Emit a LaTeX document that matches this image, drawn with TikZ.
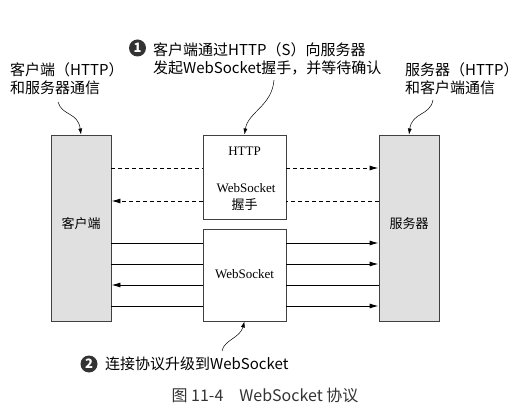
\documentclass[tikz,border=0pt]{standalone}
\usepackage{fontspec}
\setmainfont{Liberation Serif}
\newfontfamily\cjk{Noto Sans CJK SC}
\usetikzlibrary{arrows.meta}

\tikzset{
  side/.style={draw=black!75, line width=0.9pt, fill=black!12, minimum width=60pt, minimum height=186pt, inner sep=0},
  mid/.style={draw=black!75, line width=0.9pt, fill=white, minimum width=83pt, inner sep=0},
  msg/.style={line width=0.9pt},
  msgarrow/.style={msg, -{Latex[length=9pt,width=5pt]}},
  note/.style={font=\cjk\fontsize{15}{18}\selectfont, align=left, anchor=west, inner sep=0},
  boxtext/.style={font=\fontsize{13}{16}\selectfont, inner sep=0},
  hint/.style={line width=0.5pt, -{Latex[length=6pt,width=4pt]}},
  num/.style={circle, fill=black!80, text=white, inner sep=0, minimum size=17pt, font=\cjk\bfseries\fontsize{13}{13}\selectfont},
}

\begin{document}
\begin{tikzpicture}[x=1pt, y=-1pt]
	\useasboundingbox (0,0) rectangle (521,411);

	% client, server and the two middle boxes
	\node[side] (client) at (81,228) {};
	\node[side] (server) at (409,228) {};
	\node[mid, minimum height=84pt] (http) at (244.5,177) {};
	\node[mid, minimum height=92pt] (ws) at (244.5,275) {};

	\node[boxtext, font=\cjk\fontsize{13}{16}\selectfont] (clientlabel) at (81,224) {客户端};
	\node[boxtext, font=\cjk\fontsize{13}{16}\selectfont] (serverlabel) at (409,224) {服务器};
	\node[boxtext] (httplabel) at (244.5,151) {HTTP};
	\node[boxtext] (hslabel) at (246,188) {WebSocket};
	\node[boxtext, font=\cjk\fontsize{13}{16}\selectfont] (hslabel2) at (244.5,205) {握手};
	\node[boxtext] (wslabel) at (244.5,274) {WebSocket};

	% handshake (dashed)
	\draw[msg, dashed, dash pattern=on 4pt off 3pt] (client.east |- 0,168) -- (http.west |- 0,168);
	\draw[msgarrow, dashed, dash pattern=on 4pt off 3pt] (http.east |- 0,168) -- (server.west |- 0,168);
	\draw[msg, dashed, dash pattern=on 4pt off 3pt] (server.west |- 0,201) -- (http.east |- 0,201);
	\draw[msgarrow, dashed, dash pattern=on 4pt off 3pt] (http.west |- 0,201) -- (client.east |- 0,201);

	% websocket frames
	\foreach \y in {243,264,306} {
		\draw[msg] (client.east |- 0,\y) -- (ws.west |- 0,\y);
		\draw[msgarrow] (ws.east |- 0,\y) -- (server.west |- 0,\y);
	}
	\draw[msg] (server.west |- 0,285) -- (ws.east |- 0,285);
	\draw[msgarrow] (ws.west |- 0,285) -- (client.east |- 0,285);

	% notes
	\node[note] (clientnote) at (10,79) {客户端（HTTP）\\和服务器通信};
	\node[note] (servernote) at (405,79) {服务器（HTTP）\\和客户端通信};
	\node[note] (httpnote) at (153,59) {客户端通过HTTP（S）向服务器\\发起WebSocket握手，并等待确认};
	\node[num] (num1) at (137.5,48) {1};
	\node[note] (wsnote) at (105,364) {连接协议升级到WebSocket};
	\node[num] (num2) at (89,364) {2};

	\coordinate (clientnoteend) at (58,102);
	\coordinate (httpnoteend) at (274,80);
	\coordinate (servernoteend) at (433,100);
	\coordinate (wsnoteend) at (222,351);

	\draw[hint] (clientnoteend) .. controls (62,116) and (78,112) .. (client.north);
	\draw[hint] (httpnoteend) .. controls (272,106) and (248,112) .. (http.north);
	\draw[hint] (servernoteend) .. controls (430,116) and (412,112) .. (server.north);
	\draw[hint] (wsnoteend) .. controls (224,340) and (240,338) .. (ws.south);

	% caption
	\node[font=\cjk\fontsize{16}{18}\selectfont, text=black!80] (caption) at (265,395) {图 11-4\quad WebSocket 协议};
\end{tikzpicture}
\end{document}
